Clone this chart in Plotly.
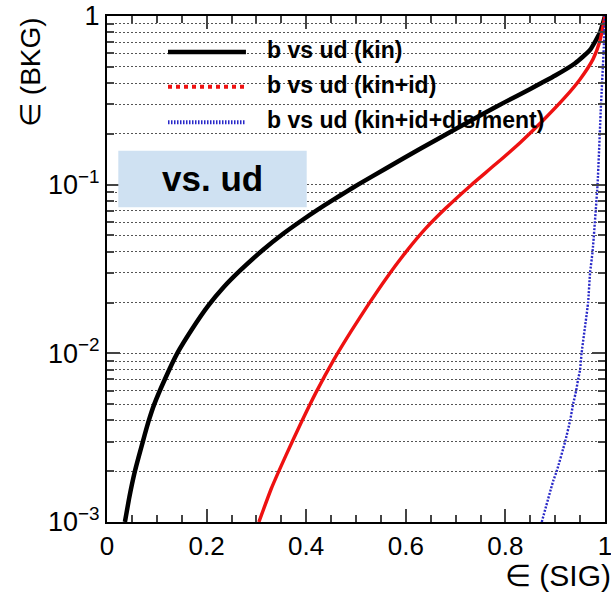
import plotly.graph_objects as go

# ---- data ----
series_names = ["b vs ud (kin)", "b vs ud (kin+id)", "b vs ud (kin+id+dis/ment)"]

kin_x = [0.036, 0.045, 0.056, 0.072, 0.084, 0.095, 0.116, 0.141, 0.17, 0.203, 0.235, 0.267,
         0.313, 0.353, 0.388, 0.424, 0.454, 0.481, 0.504, 0.56, 0.629, 0.70, 0.75, 0.80,
         0.85, 0.90, 0.94, 0.97, 0.99, 1.0]
kin_y = [0.001, 0.00141, 0.002, 0.003, 0.004, 0.005, 0.007, 0.01, 0.0138, 0.0191, 0.0248, 0.0309,
         0.041, 0.051, 0.0605, 0.0714, 0.0812, 0.091, 0.1, 0.1248, 0.1632, 0.2139, 0.2579, 0.3097,
         0.3696, 0.4438, 0.525, 0.63, 0.80, 1.0]

kinid_x = [0.305, 0.33, 0.36, 0.39, 0.42, 0.455, 0.49, 0.525, 0.562, 0.60, 0.64, 0.68,
           0.732, 0.78, 0.83, 0.876, 0.92, 0.95, 0.976, 0.99, 1.0]
kinid_y = [0.001, 0.00158, 0.00251, 0.00389, 0.00589, 0.00912, 0.0135, 0.0195, 0.0282, 0.0398,
           0.055, 0.0724, 0.1, 0.132, 0.178, 0.241, 0.330, 0.422, 0.555, 0.715, 1.0]

full_x = [0.873, 0.896, 0.903, 0.920, 0.930, 0.936, 0.942, 0.946, 0.950, 0.953, 0.966, 0.970,
          0.975, 0.985, 0.992, 0.997, 1.0]
full_y = [0.001, 0.00175, 0.002, 0.003, 0.004, 0.005, 0.006, 0.007, 0.008, 0.01, 0.02, 0.03,
          0.04, 0.1, 0.3, 0.6, 1.0]

x_tickvals = [0, 0.2, 0.4, 0.6, 0.8, 1]
x_ticktext = ["0", "0.2", "0.4", "0.6", "0.8", "1"]
y_tickvals = [0.001, 0.01, 0.1, 1]
y_ticktext = ["10<sup>−3</sup>", "10<sup>−2</sup>", "10<sup>−1</sup>", "1"]
y_minorvals = [m * 10 ** e for e in (-3, -2, -1) for m in range(2, 10)]

box_label = "vs. ud"
x_title = "∈ (SIG)"
y_title = "∈ (BKG)"

colors = ["#000000", "#ee1111", "#2828c8"]
widths = [4.5, 3.4, 2.4]
dashes = ["solid", "solid", "2px,1.5px"]

FONT = "Liberation Sans, Arial, Helvetica, sans-serif"

fig = go.Figure()
for xs, ys, c, w, d, n in zip([kin_x, kinid_x, full_x], [kin_y, kinid_y, full_y],
                               colors, widths, dashes, series_names):
    fig.add_trace(go.Scatter(x=xs, y=ys, mode="lines", name=n,
                             line=dict(color=c, width=w, dash=d, shape="spline", smoothing=0.5),
                             showlegend=False))

# ---- legend drawn manually (ROOT style, no frame) ----
leg_y = [0.929, 0.860, 0.790]
leg_dash = ["solid", "4px,4px", "1.5px,1.5px"]
leg_w = [4.5, 4, 4]
for yy, c, d, w, n in zip(leg_y, colors, leg_dash, leg_w, series_names):
    fig.add_shape(type="line", xref="paper", yref="paper", x0=0.1225, x1=0.279,
                  y0=yy, y1=yy, line=dict(color=c, width=w, dash=d), layer="above")
    fig.add_annotation(xref="paper", yref="paper", x=0.317, y=yy + 0.004, text="<b>%s</b>" % n,
                       showarrow=False, xanchor="left", yanchor="middle",
                       font=dict(family=FONT, size=23, color="black"))

# ---- "vs. ud" box ----
fig.add_shape(type="rect", xref="paper", yref="paper", x0=0.0227, x1=0.4010,
              y0=0.6219, y1=0.7338, fillcolor="#cfe1f2", line=dict(width=0), layer="above")
fig.add_annotation(xref="paper", yref="paper", x=0.2118, y=0.678, text="<b>%s</b>" % box_label,
                   showarrow=False, xanchor="center", yanchor="middle",
                   font=dict(family=FONT, size=35, color="black"))

# ---- axis titles ----
fig.add_annotation(xref="paper", yref="paper", x=-0.155, y=0.889, text=y_title, textangle=-90,
                   showarrow=False, xanchor="center", yanchor="middle",
                   font=dict(family=FONT, size=28, color="black"))
fig.add_annotation(xref="paper", yref="paper", x=0.795, y=-0.105, text=x_title,
                   showarrow=False, xanchor="left", yanchor="middle",
                   font=dict(family=FONT, size=30, color="black"))

grid_dash = "1.5px,2.5px"
fig.update_layout(
    width=611, height=593,
    margin=dict(l=107, r=6, t=16, b=71),
    paper_bgcolor="white", plot_bgcolor="white",
    font=dict(family=FONT, color="black"),
    xaxis=dict(range=[0, 1], tickmode="array", tickvals=x_tickvals, ticktext=x_ticktext,
               ticks="inside", ticklen=13, tickwidth=1.5, tickcolor="#444", automargin=False,
               ticklabeloverflow="allow",
               showline=True, linecolor="black", linewidth=2, mirror="allticks",
               showgrid=False, zeroline=False, tickfont=dict(size=26),
               minor=dict(dtick=0.05, tick0=0, ticks="inside", ticklen=7, tickwidth=1.5,
                          tickcolor="#444", showgrid=False)),
    yaxis=dict(type="log", range=[-3, 0], tickmode="array", tickvals=y_tickvals,
               ticktext=y_ticktext, ticks="inside", ticklen=13, tickwidth=1.5, tickcolor="#444",
               automargin=False, ticklabeloverflow="allow",
               showline=True, linecolor="black", linewidth=2, mirror="allticks",
               showgrid=True, gridcolor="#555", gridwidth=1, griddash=grid_dash,
               zeroline=False, tickfont=dict(size=27),
               minor=dict(tickmode="array", tickvals=y_minorvals, ticks="inside", ticklen=7,
                          tickwidth=1.5, tickcolor="#444", showgrid=True, gridcolor="#555",
                          gridwidth=1, griddash=grid_dash)),
)

fig.write_html("out.html")
